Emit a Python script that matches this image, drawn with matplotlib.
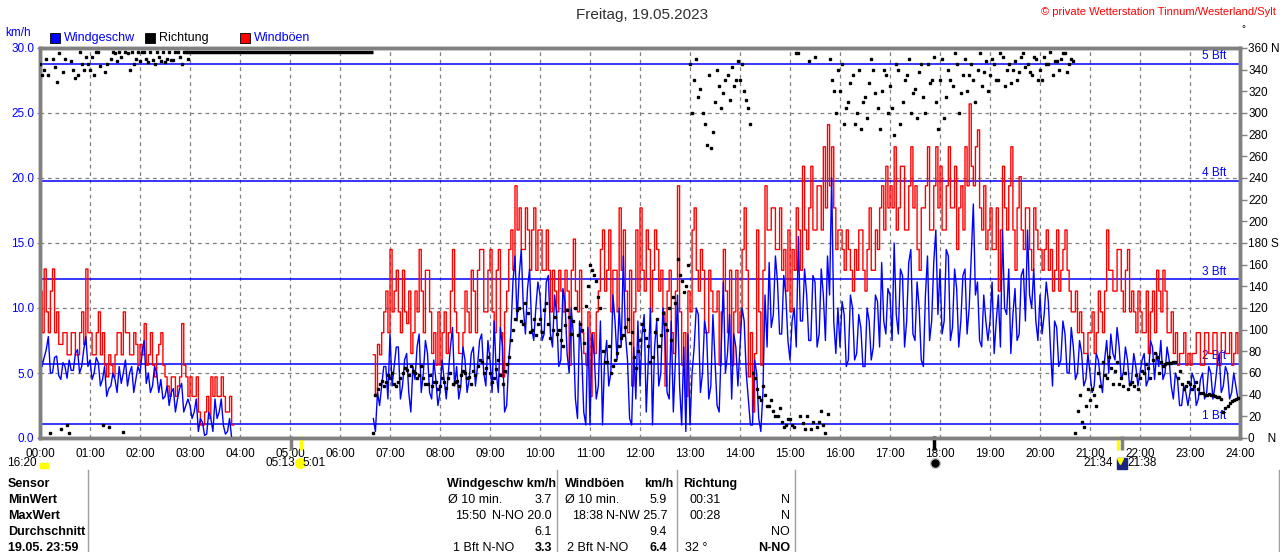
import numpy as np
import matplotlib
matplotlib.use("Agg")
import matplotlib.pyplot as plt
from matplotlib.patches import Rectangle
from matplotlib.lines import Line2D

plt.rcParams['font.family'] = ['Liberation Sans Narrow', 'Liberation Sans', 'DejaVu Sans']

# readings in 5-minute slots, one row per hour (None = no data)
# *_a : value at start of slot, *_b : value 2.5 min later
speed_a = [
    [7.4, 6.2, 7.8, 5.0, 6.3, 4.5, 5.5, 6.0, 5.2, 6.8, 5.5, 7.8],
    [6.0, 5.0, 5.8, 4.5, 3.2, 4.0, 4.5, 5.5, 5.0, 4.0, 5.5, 4.5],
    [5.0, 7.5, 5.0, 4.0, 5.0, 4.5, 3.2, 2.5, 3.8, 3.0, 4.2, 2.5],
    [2.5, 2.0, 0.5, 1.2, 0.3, 1.5, 3.0, 2.0, 1.0, 0.5, 0.0, None],
    [None] * 12,
    [None] * 12,
    [None] * 8 + [1.5, 3.5, 4.0, 5.5],
    [8.0, 5.5, 7.0, 4.0, 6.5, 2.0, 4.5, 8.0, 5.0, 6.5, 3.0, 4.5],
    [3.5, 4.5, 5.0, 8.5, 5.5, 4.0, 6.0, 4.5, 7.0, 5.5, 8.0, 4.0],
    [6.0, 9.0, 3.5, 7.0, 2.5, 8.0, 14.0, 12.5, 10.0, 11.5, 8.5, 10.0],
    [11.0, 8.0, 12.5, 7.0, 9.5, 6.0, 10.5, 5.0, 8.0, 1.5, 6.5, 1.0],
    [1.0, 6.5, 4.0, 1.0, 7.5, 5.0, 9.0, 10.0, 14.0, 6.0, 1.0, 3.0],
    [4.0, 9.5, 6.0, 1.0, 9.0, 5.0, 7.5, 3.0, 2.0, 11.0, 1.0, 0.5],
    [1.0, 7.0, 9.5, 5.0, 8.0, 4.0, 6.0, 2.0, 12.0, 6.5, 3.0, 7.0],
    [7.0, 9.0, 3.0, 1.0, 5.0, 0.5, 11.0, 13.5, 9.5, 12.0, 8.0, 11.0],
    [6.0, 10.0, 15.5, 9.0, 11.0, 7.5, 12.0, 8.0, 11.0, 14.0, 20.0, 6.5],
    [7.0, 9.5, 6.0, 10.0, 6.5, 8.5, 5.5, 9.0, 7.0, 10.5, 13.5, 8.0],
    [11.0, 15.0, 8.0, 12.5, 9.0, 14.5, 7.5, 10.0, 5.5, 14.0, 9.0, 16.0],
    [13.0, 9.0, 14.0, 8.5, 11.5, 9.0, 13.0, 10.0, 18.0, 12.0, 7.0, 9.0],
    [9.0, 6.5, 11.0, 16.0, 9.5, 6.5, 11.5, 8.0, 13.0, 16.0, 10.0, 9.0],
    [11.0, 9.5, 10.5, 4.0, 8.5, 6.0, 8.0, 5.0, 7.0, 5.0, 6.5, 4.5],
    [5.0, 4.0, 6.0, 3.5, 7.5, 8.0, 6.0, 7.0, 5.0, 6.0, 4.5, 5.5],
    [5.0, 6.5, 4.5, 7.0, 6.5, 7.5, 5.0, 6.0, 3.0, 4.5, 2.5, 3.5],
    [3.5, 4.5, 3.0, 5.0, 3.5, 5.0, 4.0, 6.5, 4.0, 5.0, 3.5, 4.0],
]
speed_b = [
    [5.5, 6.8, 5.0, 6.2, 4.8, 5.8, 4.6, 5.2, 6.5, 5.0, 6.8, 5.5],
    [4.5, 6.2, 4.0, 5.5, 3.8, 5.0, 3.5, 4.2, 6.0, 5.0, 3.5, 5.5],
    [6.5, 4.2, 3.5, 5.5, 3.5, 3.0, 4.0, 3.5, 2.0, 3.8, 2.0, 3.0],
    [1.5, 3.0, 1.5, 0.2, 2.0, 0.5, 1.5, 3.0, 0.3, 1.5, None, None],
    [None] * 12,
    [None] * 12,
    [None] * 8 + [0.5, 2.5, 5.5, 3.0],
    [4.0, 7.0, 3.0, 6.0, 3.5, 5.5, 7.0, 3.5, 7.5, 3.5, 6.0, 2.5],
    [6.0, 3.0, 7.0, 4.0, 3.0, 7.0, 3.5, 6.5, 4.0, 7.5, 5.0, 7.5],
    [3.5, 5.0, 8.5, 2.0, 6.0, 12.0, 9.0, 14.5, 8.0, 13.0, 7.5, 12.0],
    [7.5, 12.0, 8.0, 11.0, 5.5, 11.5, 6.5, 10.0, 3.0, 9.0, 2.0, 8.5],
    [8.0, 3.0, 9.0, 6.0, 4.0, 11.0, 6.0, 7.0, 8.0, 1.5, 7.0, 9.0],
    [8.0, 2.0, 10.0, 7.0, 4.0, 10.0, 3.5, 9.0, 6.0, 4.0, 7.0, 8.0],
    [5.0, 10.0, 3.5, 9.0, 3.0, 9.5, 2.5, 7.0, 5.0, 9.5, 8.0, 4.0],
    [10.0, 5.0, 1.0, 6.0, 1.5, 3.5, 7.0, 8.5, 14.0, 8.0, 12.5, 7.5],
    [9.0, 7.0, 9.0, 13.0, 7.5, 12.5, 7.0, 13.0, 7.5, 11.0, 9.0, 10.0],
    [10.5, 5.5, 11.0, 6.0, 9.5, 5.5, 10.0, 6.0, 11.0, 7.0, 9.0, 11.5],
    [7.5, 9.5, 13.0, 7.0, 13.5, 8.0, 12.0, 6.0, 11.0, 7.5, 13.5, 9.5],
    [8.0, 14.5, 7.5, 13.0, 7.0, 12.5, 8.0, 14.0, 11.0, 7.5, 11.0, 7.5],
    [12.0, 9.0, 7.0, 10.0, 13.0, 9.5, 7.5, 12.5, 9.0, 11.0, 13.0, 7.5],
    [8.0, 12.0, 7.0, 9.0, 5.5, 9.0, 5.0, 8.5, 4.5, 7.5, 4.0, 6.5],
    [3.5, 6.5, 4.5, 6.0, 5.0, 6.5, 8.5, 4.5, 7.0, 4.0, 6.5, 4.0],
    [6.0, 4.0, 7.5, 4.5, 5.5, 4.5, 7.0, 4.0, 5.0, 2.5, 4.0, 2.5],
    [5.0, 2.5, 4.5, 3.0, 5.5, 3.0, 5.5, 3.5, 5.5, 3.0, 5.0, 3.0],
]

gust_a = [
    [11.3, 13.0, 8.1, 13.0, 9.7, 7.2, 8.1, 6.4, 8.1, 6.4, 9.7, 13.0],
    [8.1, 6.4, 9.7, 8.1, 4.7, 5.6, 6.4, 8.1, 9.7, 8.1, 6.4, 7.2],
    [7.2, 8.8, 6.4, 5.6, 6.4, 8.1, 4.7, 3.2, 4.7, 4.0, 8.8, 4.7],
    [4.7, 3.2, 2.0, 1.0, 3.2, 4.7, 4.7, 3.2, 3.2, 2.0, 1.0, None],
    [None] * 12,
    [None] * 12,
    [None] * 8 + [6.4, 7.2, 8.1, 11.3],
    [14.5, 11.3, 9.7, 12.9, 8.8, 6.5, 11.3, 14.5, 8.1, 12.9, 6.5, 5.6],
    [5.6, 9.7, 8.1, 14.5, 8.1, 6.5, 11.3, 8.1, 11.3, 12.9, 14.5, 9.7],
    [14.5, 8.1, 14.5, 4.7, 11.3, 16.0, 19.4, 17.7, 14.5, 16.0, 16.0, 12.9],
    [16.0, 12.9, 12.9, 12.9, 9.7, 11.3, 12.9, 5.6, 15.3, 9.7, 8.1, 5.6],
    [3.2, 6.5, 11.3, 16.0, 12.9, 9.7, 12.9, 17.7, 16.0, 8.1, 4.0, 16.0],
    [17.7, 11.3, 14.5, 12.9, 14.5, 12.9, 4.0, 12.9, 6.5, 19.4, 5.6, 3.2],
    [9.7, 17.7, 11.3, 12.9, 8.1, 11.3, 9.7, 5.6, 14.5, 8.1, 5.6, 12.9],
    [9.7, 17.7, 4.7, 2.0, 16.0, 5.6, 19.4, 16.0, 17.7, 14.5, 12.9, 11.3],
    [9.7, 12.9, 16.0, 20.9, 14.5, 20.9, 16.0, 19.4, 22.4, 24.1, 22.4, 14.5],
    [16.0, 12.9, 14.5, 11.3, 12.9, 16.0, 11.3, 17.7, 12.9, 14.5, 19.4, 20.9],
    [19.4, 22.4, 17.7, 20.9, 16.0, 22.4, 19.4, 12.9, 17.7, 22.4, 16.0, 22.4],
    [20.9, 16.0, 22.4, 17.7, 14.5, 19.4, 22.4, 25.7, 19.4, 23.7, 16.0, 14.5],
    [17.7, 14.5, 11.3, 20.9, 16.0, 22.4, 12.9, 20.1, 14.5, 17.7, 12.9, 16.0],
    [14.5, 14.5, 12.9, 11.3, 16.0, 12.9, 16.0, 11.3, 9.7, 8.1, 8.1, 6.5],
    [8.1, 6.5, 11.3, 8.1, 16.0, 12.9, 11.3, 14.5, 9.7, 14.5, 11.3, 8.1],
    [9.7, 8.1, 6.5, 11.3, 12.9, 9.7, 11.3, 8.1, 6.5, 5.6, 6.5, 5.6],
    [5.6, 6.5, 8.1, 5.6, 8.1, 6.5, 8.1, 5.6, 8.1, 6.5, 5.6, 8.1],
]
gust_b = [
    [8.1, 9.7, 11.3, 8.1, 7.2, 8.1, 6.4, 8.1, 6.4, 8.1, 7.2, 8.1],
    [6.4, 8.1, 6.4, 5.6, 6.4, 4.7, 8.1, 6.4, 8.1, 6.4, 8.1, 5.6],
    [6.4, 5.6, 8.1, 4.7, 7.2, 5.6, 4.0, 4.7, 3.2, 4.7, 5.6, 3.2],
    [3.2, 4.7, 1.0, 2.0, 1.5, 3.2, 3.2, 4.7, 2.0, 3.2, None, None],
    [None] * 12,
    [None] * 12,
    [None] * 8 + [3.2, 6.4, 9.7, 8.1],
    [9.7, 12.9, 8.1, 9.7, 11.3, 8.1, 9.7, 11.3, 12.9, 9.7, 8.1, 9.7],
    [8.1, 6.5, 11.3, 9.7, 6.5, 8.1, 9.7, 12.9, 8.1, 14.5, 9.7, 12.9],
    [9.7, 12.9, 8.1, 9.7, 14.5, 12.9, 16.0, 14.5, 17.7, 12.9, 17.7, 16.0],
    [12.9, 16.0, 9.7, 11.3, 12.9, 9.7, 11.3, 12.9, 11.3, 12.9, 6.5, 9.7],
    [8.1, 9.7, 14.5, 11.3, 16.0, 12.9, 9.7, 12.9, 11.3, 12.9, 9.7, 11.3],
    [12.9, 16.0, 9.7, 16.0, 11.3, 9.7, 11.3, 8.1, 11.3, 9.7, 8.1, 11.3],
    [16.0, 12.9, 14.5, 8.1, 12.9, 9.7, 11.3, 9.7, 11.3, 12.9, 9.7, 8.1],
    [14.5, 12.9, 8.1, 6.5, 9.7, 12.9, 16.0, 17.7, 14.5, 17.7, 14.5, 16.0],
    [14.5, 17.7, 12.9, 16.0, 17.7, 16.0, 19.4, 16.0, 17.7, 19.4, 17.7, 16.0],
    [14.5, 16.0, 12.9, 14.5, 16.0, 12.9, 14.5, 12.9, 16.0, 17.7, 16.0, 17.7],
    [17.7, 16.0, 20.9, 16.0, 19.4, 17.7, 14.5, 17.7, 19.4, 16.0, 19.4, 17.7],
    [16.0, 19.4, 17.7, 20.9, 17.7, 16.0, 19.4, 20.9, 22.4, 17.7, 19.4, 16.0],
    [14.5, 17.7, 16.0, 17.7, 19.4, 16.0, 17.7, 16.0, 17.7, 14.5, 17.7, 14.5],
    [12.9, 16.0, 14.5, 12.9, 11.3, 14.5, 12.9, 9.7, 11.3, 9.7, 6.5, 8.1],
    [9.7, 8.1, 9.7, 11.3, 12.9, 11.3, 14.5, 11.3, 12.9, 9.7, 9.7, 11.3],
    [8.1, 11.3, 9.7, 8.1, 11.3, 12.9, 8.1, 9.7, 8.1, 6.5, 8.1, 6.5],
    [6.5, 8.1, 5.6, 8.1, 6.5, 8.1, 5.6, 8.1, 6.5, 8.1, 6.5, 6.5],
]

direction_a = [
    [345, 340, 335, 350, 329, 8, 350, 5, 340, 335, 345, 352],
    [340, 335, 356, 12, 345, 350, 355, 356, 6, 355, 356, 350],
    [348, 356, 347, 349, 356, 348, 347, 356, 349, 356, 345, 356],
    [None] * 12,
    [None] * 12,
    [None] * 12,
    [None] * 8 + [5, 45, 53, 52],
    [55, 50, 52, 60, 63, 66, 60, 58, 55, 50, 48, 52],
    [48, 52, 55, 50, 53, 58, 60, 56, 62, 66, 70, 65],
    [60, 55, 72, 50, 68, 90, 110, 120, 105, 115, 100, 95],
    [110, 118, 105, 100, 96, 90, 104, 112, 108, 95, 100, 122],
    [160, 150, 130, 80, 70, 60, 72, 85, 95, 110, 98, 65],
    [90, 100, 85, 75, 110, 95, 105, 120, 130, 165, 145, 140],
    [345, 330, 315, 300, 270, 268, 310, 325, 318, 335, 342, 330],
    [330, 320, 305, 60, 45, 35, 40, 30, 25, 20, 15, 12],
    [18, 10, 355, 14, 20, 8, 352, 15, 12, 22, 330, 300],
    [320, 290, 310, 335, 300, 285, 315, 328, 340, 305, 320, 335],
    [325, 280, 340, 310, 335, 300, 322, 338, 315, 345, 330, 310],
    [330, 295, 340, 325, 345, 318, 350, 335, 330, 340, 325, 348],
    [335, 345, 330, 352, 340, 328, 348, 338, 355, 345, 335, 350],
    [340, 352, 345, 335, 348, 350, 355, 345, 348, 25, 15, 30],
    [35, 40, 60, 70, 55, 65, 62, 50, 48, 45, 52, 58],
    [55, 60, 65, 72, 75, 70, 68, 69, 70, 55, 50, 48],
    [50, 48, 45, 42, 40, 40, 39, 38, 24, 30, 34, 36],
]
direction_b = [
    [335, 350, 5, 342, 355, 338, 12, 348, 332, 356, 340, 345],
    [352, 356, 343, 338, 10, 356, 348, 352, 356, 340, 345, 356],
    [356, 350, 356, 345, 352, 356, 350, 349, 356, 352, 356, 350],
    [None] * 12,
    [None] * 12,
    [None] * 12,
    [None] * 8 + [40, 50, 48, 58],
    [60, 48, 55, 65, 58, 62, 55, 66, 50, 58, 52, 45],
    [55, 46, 60, 52, 48, 62, 55, 50, 58, 72, 60, 75],
    [52, 64, 58, 62, 75, 100, 118, 108, 125, 98, 110, 105],
    [98, 125, 92, 112, 100, 85, 118, 96, 120, 105, 88, 140],
    [155, 145, 120, 70, 85, 66, 78, 92, 102, 88, 75, 80],
    [105, 92, 70, 98, 85, 115, 100, 90, 125, 150, 135, 160],
    [300, 350, 322, 290, 335, 282, 340, 305, 330, 312, 325, 348],
    [345, 312, 290, 55, 38, 48, 30, 35, 20, 28, 10, 18],
    [12, 355, 20, 8, 348, 15, 10, 25, 5, 350, 320, 340],
    [345, 305, 328, 290, 340, 310, 295, 350, 318, 285, 340, 300],
    [305, 345, 290, 330, 350, 318, 295, 345, 300, 328, 352, 285],
    [350, 315, 330, 355, 300, 335, 320, 345, 310, 355, 338, 320],
    [350, 330, 355, 325, 345, 340, 330, 352, 342, 338, 352, 330],
    [330, 345, 356, 348, 340, 355, 338, 350, 5, 40, 10, 45],
    [45, 30, 48, 58, 75, 50, 70, 55, 60, 50, 48, 45],
    [62, 68, 55, 78, 60, 66, 69, 69, 70, 62, 45, 52],
    [45, 52, 42, 40, 41, 40, 38, 36, 28, 32, 35, 37],
]

# calm period: vane stays fixed
calm_from, calm_to, calm_dir = 2 + 55 / 60, 6 + 40 / 60, 356

bft_kmh = [1.1, 5.7, 12.2, 19.8, 28.8]
bft_names = ["1 Bft", "2 Bft", "3 Bft", "4 Bft", "5 Bft"]

hour_labels = ["%02d:00" % h for h in range(25)]
kmh_ticks = [0, 5, 10, 15, 20, 25, 30]
deg_ticks = list(range(0, 361, 20))

table_rows = ["Sensor", "MinWert", "MaxWert", "Durchschnitt", "19.05. 23:59"]


def merge(a_rows, b_rows):
    a = np.array(sum(a_rows, []), dtype=float)
    b = np.array(sum(b_rows, []), dtype=float)
    return np.column_stack([a, b]).ravel()


speed = merge(speed_a, speed_b)
gust = merge(gust_a, gust_b)
direction = merge(direction_a, direction_b)
t = np.arange(len(speed)) * 2.5 / 60

W, H = 1280, 552
def fx(px): return px / W
def fy(py): return 1 - py / H

fig = plt.figure(figsize=(12.8, 5.52), dpi=100)
ax = fig.add_axes([fx(40), fy(438), 1200 / W, 390 / H])

ax.set_xlim(0, 24)
ax.set_ylim(0, 30)
ax.set_xticks(range(25))
ax.set_xticklabels(hour_labels)
ax.set_yticks(kmh_ticks)
ax.set_yticklabels(["%.1f" % v for v in kmh_ticks])
ax.tick_params(axis='x', labelsize=8.5, length=0, pad=7)
ax.tick_params(axis='y', labelsize=8.5, length=2, pad=2, labelcolor='#0000ff', color='#808080')
ax.grid(True, color='#808080', linestyle=(0, (3, 3)), linewidth=0.9)
for s in ax.spines.values():
    s.set_color('#808080')
    s.set_linewidth(2.5)

for v, name in zip(bft_kmh, bft_names):
    ax.axhline(v, color='#0000ff', linewidth=1.1, zorder=2)
    ax.text(23.72, v + 0.6, name, color='#0000ff', fontsize=8.5, ha='right', va='center', zorder=2)

ax.plot(t, gust, color='#ff0000', linewidth=1.0, drawstyle='steps-post', zorder=3)
ax.plot(t, speed, color='#0000ff', linewidth=1.0, zorder=4)

ax2 = ax.twinx()
ax2.set_ylim(0, 360)
ax2.set_yticks(deg_ticks)
lbls = []
for d in deg_ticks:
    if d == 0:
        lbls.append("0    N")
    elif d == 360:
        lbls.append("360 N")
    elif d == 180:
        lbls.append("180 S")
    else:
        lbls.append(str(d))
ax2.set_yticklabels(lbls)
ax2.tick_params(axis='y', labelsize=8.5, length=5, width=1, color='#808080', pad=1)
for s in ax2.spines.values():
    s.set_color('#808080')
    s.set_linewidth(2.5)
ax2.plot(t, direction, 's', color='black', markersize=2.0, zorder=5)
ax2.plot([calm_from, calm_to], [calm_dir, calm_dir], color='black', linewidth=2.5, solid_capstyle='butt')

# sun / moon events below the time axis
sunrise, moonrise, new_moon, sunset, moonset = 5 + 13 / 60, 5 + 1 / 60, 17 + 53 / 60, 21 + 34 / 60, 21 + 38 / 60
for tm, col in [(moonrise, '#808080'), (sunrise, '#ffff00'), (new_moon, 'black'),
                (sunset, '#ffff00'), (moonset, '#808080')]:
    ax.vlines(tm, -0.95, 0.15, color=col, linewidth=2.5, clip_on=False, zorder=6)

fig.text(fx(37), fy(463), "16:20", fontsize=8.5, ha='right', va='center')
fig.patches.append(Rectangle((fx(40), fy(468)), 8 / W, 5 / H, transform=fig.transFigure, color='#ffff00'))
fig.text(fx(295), fy(463), "05:13", fontsize=8.5, ha='right', va='center')
fig.text(fx(302), fy(463), "5:01", fontsize=8.5, ha='left', va='center')
fig.add_artist(Line2D([fx(300)], [fy(463)], marker='o', markersize=7, color='#ffff00',
                      transform=fig.transFigure))
fig.add_artist(Line2D([fx(935)], [fy(463)], marker='o', markersize=7, color='black',
                      markeredgecolor='#c0c0c0', transform=fig.transFigure))
fig.text(fx(1113), fy(463), "21:34", fontsize=8.5, ha='right', va='center')
fig.patches.append(Rectangle((fx(1117), fy(469)), 10 / W, 11 / H, transform=fig.transFigure, color='#1a237e'))
fig.add_artist(Line2D([fx(1120)], [fy(461)], marker='v', markersize=4, color='#ffff00',
                      transform=fig.transFigure))
fig.text(fx(1127), fy(463), "21:38", fontsize=8.5, ha='left', va='center')

# title, copyright, legend
fig.text(fx(642), fy(15), "Freitag, 19.05.2023", fontsize=11, color='#303030', ha='center', va='center',
         family=['Liberation Sans', 'DejaVu Sans'])
fig.text(fx(1276), fy(12), "\u00a9 private Wetterstation Tinnum/Westerland/Sylt", fontsize=8, color='#ff0000',
         ha='right', va='center', family=['Liberation Sans', 'DejaVu Sans'])
fig.text(fx(1243), fy(29), "\u00b0", fontsize=7, ha='center', va='center')
fig.text(fx(5), fy(33), "km/h", fontsize=8.5, color='#0000ff', ha='left', va='center')
for x0, col, name, tcol in [(50, '#0000ff', 'Windgeschw', '#0000ff'), (145, 'black', 'Richtung', 'black'),
                            (240, '#ff0000', 'Windböen', '#0000ff')]:
    fig.patches.append(Rectangle((fx(x0), fy(43)), 10 / W, 10 / H, transform=fig.transFigure,
                                 facecolor=col, edgecolor='black', linewidth=0.6))
    fig.text(fx(x0 + 14), fy(38), name, fontsize=9, color=tcol, ha='left', va='center')

# summary table
for xs in [88, 557, 677, 795, 1279]:
    fig.add_artist(Line2D([fx(xs), fx(xs)], [fy(470), fy(552)], color='#a0a0a0', linewidth=1))
row_y = [484, 500, 516, 532, 548]
for y, name in zip(row_y, table_rows):
    fig.text(fx(8), fy(y), name, fontsize=9, weight='bold', ha='left', va='center')


def cell(x, y, s, ha='left', bold=False):
    fig.text(fx(x), fy(y), s, fontsize=9, ha=ha, va='center', weight='bold' if bold else 'normal')


cell(447, 484, "Windgeschw km/h", bold=True)
cell(565, 484, "Windböen", bold=True)
cell(673, 484, "km/h", ha='right', bold=True)
cell(683, 484, "Richtung", bold=True)

cell(448, 500, "Ø 10 min.")
cell(552, 500, "3.7", ha='right')
cell(565, 500, "Ø 10 min.")
cell(667, 500, "5.9", ha='right')
cell(690, 500, "00:31")
cell(790, 500, "N", ha='right')

cell(455, 516, "15:50")
cell(552, 516, "N-NO 20.0", ha='right')
cell(572, 516, "18:38")
cell(667, 516, "N-NW 25.7", ha='right')
cell(690, 516, "00:28")
cell(790, 516, "N", ha='right')

cell(552, 532, "6.1", ha='right')
cell(667, 532, "9.4", ha='right')
cell(790, 532, "NO", ha='right')

cell(453, 548, "1 Bft N-NO")
cell(552, 548, "3.3", ha='right', bold=True)
cell(567, 548, "2 Bft N-NO")
cell(667, 548, "6.4", ha='right', bold=True)
cell(685, 548, "32 °")
cell(790, 548, "N-NO", ha='right', bold=True)

fig.savefig("out.png", dpi=100)
